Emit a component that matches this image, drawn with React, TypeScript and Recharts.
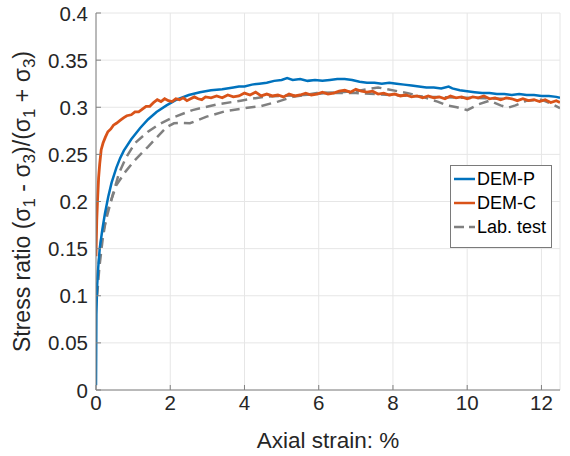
import { CartesianGrid, Label, Legend, Line, LineChart, XAxis, YAxis } from "recharts";

const FONT = "'Liberation Sans', Arial, Helvetica, sans-serif";
const BLUE = "#0072BD";
const ORANGE = "#D95319";
const GRAY = "#808080";
const TICK_FONT = 20.5;

const strainTicks = [0, 2, 4, 6, 8, 10, 12];
const ratioTicks = [0, 0.05, 0.1, 0.15, 0.2, 0.25, 0.3, 0.35, 0.4];

// [axial strain %, stress ratio]
const demP: [number, number][] = [
  [0, 0.005], [0.005, 0.04], [0.01, 0.08], [0.03, 0.11], [0.06, 0.13], [0.1, 0.15],
  [0.17, 0.17], [0.24, 0.187], [0.33, 0.205], [0.42, 0.22], [0.55, 0.236], [0.65, 0.246],
  [0.75, 0.254], [0.95, 0.266], [1.19, 0.278], [1.4, 0.287], [1.63, 0.295], [1.9, 0.302],
  [2.17, 0.308], [2.5, 0.313], [2.8, 0.316], [3.1, 0.318], [3.4, 0.319], [3.7, 0.321],
  [3.85, 0.322], [4.0, 0.322], [4.2, 0.324], [4.4, 0.325], [4.6, 0.326], [4.8, 0.328],
  [5.0, 0.329], [5.15, 0.331], [5.3, 0.329], [5.5, 0.330], [5.7, 0.328], [5.9, 0.329],
  [6.1, 0.328], [6.3, 0.329], [6.5, 0.330], [6.7, 0.330], [6.9, 0.329], [7.1, 0.327],
  [7.3, 0.326], [7.5, 0.326], [7.7, 0.325], [7.9, 0.326], [8.1, 0.325], [8.3, 0.324],
  [8.5, 0.323], [8.7, 0.322], [8.9, 0.321], [9.1, 0.321], [9.3, 0.320], [9.5, 0.322],
  [9.6, 0.320], [9.8, 0.318], [10.0, 0.317], [10.2, 0.316], [10.4, 0.315], [10.6, 0.315],
  [10.8, 0.314], [11.0, 0.314], [11.2, 0.313], [11.4, 0.314], [11.6, 0.313], [11.8, 0.313],
  [12.0, 0.312], [12.2, 0.312], [12.4, 0.311], [12.5, 0.310],
];

const demC: [number, number][] = [
  [0, 0.142], [0.02, 0.18], [0.04, 0.2], [0.07, 0.225], [0.1, 0.24], [0.14, 0.255],
  [0.19, 0.262], [0.25, 0.268], [0.32, 0.274], [0.4, 0.277], [0.47, 0.281], [0.55, 0.283],
  [0.65, 0.286], [0.75, 0.289], [0.83, 0.291], [0.95, 0.292], [1.05, 0.295], [1.15, 0.295],
  [1.25, 0.298], [1.35, 0.301], [1.45, 0.301], [1.55, 0.305], [1.65, 0.308], [1.75, 0.306],
  [1.85, 0.309], [1.95, 0.307], [2.05, 0.306], [2.15, 0.309], [2.25, 0.308], [2.35, 0.310],
  [2.45, 0.307], [2.55, 0.309], [2.65, 0.311], [2.75, 0.309], [2.85, 0.308], [2.95, 0.311],
  [3.1, 0.310], [3.25, 0.312], [3.4, 0.310], [3.55, 0.313], [3.7, 0.311], [3.85, 0.312],
  [4.0, 0.315], [4.15, 0.313], [4.3, 0.316], [4.45, 0.312], [4.6, 0.314], [4.75, 0.312],
  [4.9, 0.313], [5.05, 0.311], [5.2, 0.314], [5.35, 0.312], [5.5, 0.313], [5.65, 0.315],
  [5.8, 0.313], [5.95, 0.314], [6.1, 0.316], [6.25, 0.314], [6.4, 0.315], [6.55, 0.317],
  [6.7, 0.318], [6.85, 0.316], [7.0, 0.319], [7.15, 0.317], [7.3, 0.316], [7.45, 0.317],
  [7.6, 0.314], [7.75, 0.315], [7.9, 0.313], [8.05, 0.314], [8.2, 0.312], [8.35, 0.313],
  [8.5, 0.311], [8.65, 0.312], [8.8, 0.310], [8.95, 0.312], [9.1, 0.310], [9.25, 0.311],
  [9.4, 0.309], [9.55, 0.312], [9.7, 0.310], [9.85, 0.311], [10.0, 0.309], [10.15, 0.311],
  [10.3, 0.310], [10.45, 0.312], [10.6, 0.309], [10.75, 0.310], [10.9, 0.308], [11.05, 0.310],
  [11.2, 0.309], [11.35, 0.307], [11.5, 0.309], [11.65, 0.307], [11.8, 0.308], [11.95, 0.306],
  [12.1, 0.308], [12.25, 0.305], [12.4, 0.307], [12.5, 0.305],
];

const labUpper: [number, number][] = [
  [0.02, 0.1], [0.06, 0.13], [0.14, 0.16], [0.3, 0.185], [0.45, 0.207], [0.62, 0.23],
  [0.8, 0.246], [1.05, 0.262], [1.4, 0.274], [1.7, 0.282], [2.0, 0.288], [2.6, 0.297],
  [3.25, 0.303], [3.9, 0.307], [4.5, 0.311], [5.0, 0.312], [5.6, 0.313], [6.2, 0.315],
  [7.0, 0.315], [8.0, 0.313], [9.0, 0.311], [10.0, 0.310], [11.0, 0.309],
];

const labLower: [number, number][] = [
  [0.03, 0.1], [0.09, 0.13], [0.18, 0.16], [0.3, 0.189], [0.55, 0.2175], [0.8, 0.232],
  [1.05, 0.244], [1.4, 0.258], [1.9, 0.279], [2.1, 0.283], [2.26, 0.2835], [2.53, 0.283],
  [2.98, 0.29], [3.5, 0.296], [4.0, 0.299], [4.42, 0.301], [4.9, 0.306], [5.3, 0.311],
  [5.95, 0.315], [6.6, 0.316], [7.0, 0.317], [7.6, 0.321], [7.85, 0.319], [8.4, 0.315],
  [8.8, 0.311], [9.2, 0.306], [9.45, 0.302], [9.72, 0.300], [10.0, 0.297], [10.3, 0.303],
  [10.6, 0.307], [10.9, 0.302], [11.1, 0.2995], [11.3, 0.302], [11.6, 0.307], [12.0, 0.308],
  [12.3, 0.303], [12.5, 0.299],
];

const legendItems = [
  { name: "DEM-P", color: BLUE, dash: undefined as string | undefined },
  { name: "DEM-C", color: ORANGE, dash: undefined as string | undefined },
  { name: "Lab. test", color: GRAY, dash: "10 5" },
];

const toPoints = (pts: [number, number][]) => pts.map(([x, y]) => ({ x, y }));

const noTick = () => null;

function BottomTick(props: any) {
  const { x, y, payload } = props;
  return (
    <text x={x} y={y} dy={15} textAnchor="middle" fontSize={TICK_FONT} fontFamily={FONT} fill="#262626">
      {String(payload.value)}
    </text>
  );
}

function LeftTick(props: any) {
  const { x, y, payload } = props;
  return (
    <text x={x} y={y} dy={7.5} textAnchor="end" fontSize={TICK_FONT} fontFamily={FONT} fill="#262626">
      {String(payload.value)}
    </text>
  );
}

function LegendBox() {
  return (
    <div
      style={{
        border: "1px solid #7a7a7a",
        background: "#fff",
        padding: "1px 0 8px 0",
        fontFamily: FONT,
        fontSize: 18,
        color: "#000",
        boxSizing: "border-box",
        width: 102,
      }}
    >
      {legendItems.map((item) => (
        <div key={item.name} style={{ display: "flex", alignItems: "center", height: 24 }}>
          <svg width={26} height={24} style={{ flex: "none" }}>
            <line x1={3} x2={24} y1={12} y2={12} stroke={item.color} strokeWidth={2.5} strokeDasharray={item.dash} />
          </svg>
          <span style={{ lineHeight: "24px", whiteSpace: "nowrap" }}>{item.name}</span>
        </div>
      ))}
    </div>
  );
}

function YTitle(props: any) {
  const vb = props.viewBox;
  const cx = vb.x - 6;
  const cy = vb.y + vb.height / 2;
  const sub = 17;
  return (
    <text
      x={cx}
      y={cy}
      transform={`rotate(-90 ${cx} ${cy})`}
      textAnchor="middle"
      fontSize={23}
      fill="#262626"
      fontFamily={FONT}
    >
      Stress ratio (σ
      <tspan dy={5} fontSize={sub}>1</tspan>
      <tspan dy={-5}> - σ</tspan>
      <tspan dy={5} fontSize={sub}>3</tspan>
      <tspan dy={-5}>)/(σ</tspan>
      <tspan dy={5} fontSize={sub}>1</tspan>
      <tspan dy={-5}> + σ</tspan>
      <tspan dy={5} fontSize={sub}>3</tspan>
      <tspan dy={-5}>)</tspan>
    </text>
  );
}

function XTitle(props: any) {
  const vb = props.viewBox;
  return (
    <text
      x={vb.x + vb.width / 2}
      y={vb.y + 58}
      textAnchor="middle"
      fontSize={22.5}
      fill="#262626"
      fontFamily={FONT}
    >
      Axial strain: %
    </text>
  );
}

export default function App() {
  return (
    <div style={{ position: "absolute", left: 0, top: 0, width: 570, height: 456, background: "#fff" }}>
      <LineChart width={570} height={456} margin={{ top: 13, right: 10, bottom: 36, left: 36 }}>
        <CartesianGrid xAxisId="bottom" yAxisId="left" stroke="#e6e6e6" />
        <XAxis
          xAxisId="bottom"
          type="number"
          dataKey="x"
          domain={[0, 12.5]}
          ticks={strainTicks}
          interval={0}
          allowDataOverflow
          height={30}
          stroke="#808080"
          tickSize={-5}
          tickMargin={10}
          tick={BottomTick}
        >
          <Label content={XTitle} />
        </XAxis>
        <XAxis
          xAxisId="top"
          orientation="top"
          type="number"
          dataKey="x"
          domain={[0, 12.5]}
          ticks={strainTicks}
          interval={0}
          allowDataOverflow
          height={0}
          stroke="#808080"
          tickSize={-5}
          tick={noTick}
        />
        <YAxis
          yAxisId="left"
          type="number"
          domain={[0, 0.4]}
          ticks={ratioTicks}
          interval={0}
          allowDataOverflow
          width={60}
          stroke="#808080"
          tickSize={-5}
          tickMargin={13}
          tick={LeftTick}
        >
          <Label content={YTitle} />
        </YAxis>
        <YAxis
          yAxisId="right"
          orientation="right"
          type="number"
          domain={[0, 0.4]}
          ticks={ratioTicks}
          interval={0}
          allowDataOverflow
          width={0}
          stroke="#808080"
          tickSize={-5}
          tick={noTick}
        />
        <Line
          xAxisId="bottom"
          yAxisId="left"
          data={toPoints(labUpper)}
          dataKey="y"
          name="Lab. test"
          stroke={GRAY}
          strokeWidth={2.5}
          strokeDasharray="10 6"
          dot={false}
          activeDot={false}
          isAnimationActive={false}
        />
        <Line
          xAxisId="bottom"
          yAxisId="left"
          data={toPoints(labLower)}
          dataKey="y"
          name="Lab. test (2)"
          legendType="none"
          stroke={GRAY}
          strokeWidth={2.5}
          strokeDasharray="10 6"
          dot={false}
          activeDot={false}
          isAnimationActive={false}
        />
        <Line
          xAxisId="bottom"
          yAxisId="left"
          data={toPoints(demP)}
          dataKey="y"
          name="DEM-P"
          stroke={BLUE}
          strokeWidth={2.5}
          dot={false}
          activeDot={false}
          isAnimationActive={false}
        />
        <Line
          xAxisId="bottom"
          yAxisId="left"
          data={toPoints(demC)}
          dataKey="y"
          name="DEM-C"
          stroke={ORANGE}
          strokeWidth={2.8}
          dot={false}
          activeDot={false}
          isAnimationActive={false}
        />
        <Legend
          layout="vertical"
          align="center"
          verticalAlign="middle"
          wrapperStyle={{ left: 450, top: 165, width: 102 }}
          content={LegendBox}
        />
      </LineChart>
    </div>
  );
}
